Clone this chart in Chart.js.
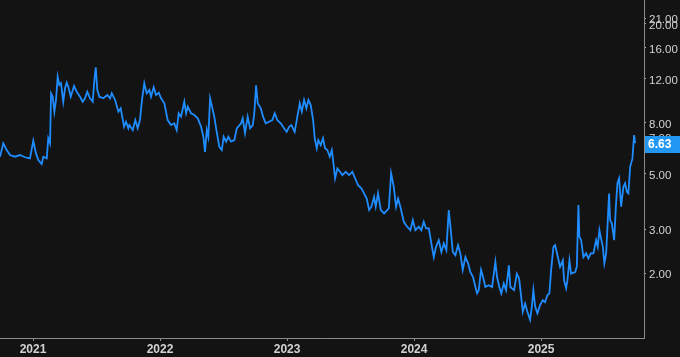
<!DOCTYPE html>
<html>
<head>
<meta charset="utf-8">
<script src="https://cdn.jsdelivr.net/npm/chart.js@4.4.1/dist/chart.umd.min.js"></script>
<style>
    html, body { margin: 0; padding: 0; background: #131313; }
    #wrap { width: 680px; height: 357px; position: relative; }
</style>
</head>
<body>
<div id="wrap"><canvas id="priceChart"></canvas></div>
<script>
// Dates as decimal years, prices (log scale)
const dates = [
    2020.740, 2020.766, 2020.793, 2020.819, 2020.858, 2020.897, 2020.937, 2020.976, 2021.002, 2021.023,
    2021.042, 2021.068, 2021.081, 2021.108, 2021.120, 2021.134, 2021.142, 2021.155, 2021.168, 2021.181,
    2021.194, 2021.207, 2021.220, 2021.238, 2021.252, 2021.265, 2021.278, 2021.297, 2021.323, 2021.344,
    2021.370, 2021.391, 2021.409, 2021.427, 2021.449, 2021.470, 2021.483, 2021.494, 2021.506, 2021.522,
    2021.553, 2021.585, 2021.606, 2021.620, 2021.646, 2021.672, 2021.690, 2021.717, 2021.732, 2021.750,
    2021.758, 2021.785, 2021.805, 2021.824, 2021.842, 2021.858, 2021.876, 2021.895, 2021.916, 2021.929,
    2021.950, 2021.968, 2021.990, 2022.008, 2022.034, 2022.060, 2022.086, 2022.112, 2022.131, 2022.147,
    2022.165, 2022.191, 2022.205, 2022.218, 2022.244, 2022.270, 2022.297, 2022.323, 2022.341, 2022.354,
    2022.368, 2022.380, 2022.394, 2022.409, 2022.427, 2022.446, 2022.467, 2022.486, 2022.501, 2022.520,
    2022.538, 2022.559, 2022.585, 2022.604, 2022.638, 2022.651, 2022.669, 2022.690, 2022.709, 2022.730,
    2022.742, 2022.756, 2022.769,
    2022.793, 2022.811, 2022.832, 2022.858, 2022.884, 2022.903, 2022.923, 2022.950, 2022.976, 2022.997,
    2023.016, 2023.034, 2023.060, 2023.081, 2023.100, 2023.116, 2023.134, 2023.152, 2023.168, 2023.186,
    2023.205, 2023.218, 2023.234, 2023.246, 2023.265, 2023.283, 2023.299, 2023.317, 2023.336, 2023.352,
    2023.364, 2023.378, 2023.396, 2023.417, 2023.435, 2023.462, 2023.488, 2023.514, 2023.541, 2023.559,
    2023.585, 2023.606, 2023.627, 2023.646, 2023.664, 2023.685, 2023.698, 2023.716, 2023.738, 2023.764,
    2023.801, 2023.819, 2023.840, 2023.858, 2023.874, 2023.892, 2023.919, 2023.945, 2023.971, 2023.990,
    2024.010, 2024.037, 2024.057, 2024.076, 2024.094, 2024.116, 2024.136, 2024.155, 2024.173, 2024.194,
    2024.215, 2024.234, 2024.254, 2024.273, 2024.286, 2024.305, 2024.325, 2024.346, 2024.364, 2024.383,
    2024.404, 2024.425, 2024.443, 2024.464, 2024.483, 2024.496, 2024.509, 2024.527, 2024.543, 2024.561,
    2024.588, 2024.614, 2024.640, 2024.653, 2024.671, 2024.687, 2024.706, 2024.724, 2024.746, 2024.758,
    2024.787, 2024.809, 2024.827, 2024.840, 2024.856, 2024.874, 2024.892, 2024.913, 2024.927, 2024.939,
    2024.953, 2024.971, 2024.992, 2025.013, 2025.031, 2025.049, 2025.065, 2025.079, 2025.097, 2025.110,
    2025.123, 2025.149, 2025.171, 2025.181, 2025.197, 2025.207, 2025.223, 2025.236, 2025.268, 2025.281,
    2025.294, 2025.301, 2025.315, 2025.333, 2025.354, 2025.372, 2025.391, 2025.412, 2025.433, 2025.446,
    2025.459, 2025.472, 2025.486, 2025.498, 2025.512, 2025.525, 2025.535, 2025.543, 2025.557, 2025.575,
    2025.590, 2025.601, 2025.614, 2025.630, 2025.648, 2025.661, 2025.675, 2025.687, 2025.701, 2025.719,
    2025.732, 2025.740
];

const prices = [
    5.85, 6.62, 6.22, 5.94, 5.85, 5.94, 5.82, 5.76, 6.78, 6.03,
    5.67, 5.47, 5.85, 5.76, 6.93, 6.62, 10.49, 10.17, 8.86, 9.87,
    12.23, 11.33, 11.51, 9.71, 10.99, 11.57, 11.15, 10.17, 11.23, 10.65,
    10.17, 9.71, 10.02, 10.65, 10.02, 9.71, 11.86, 13.34, 10.82, 10.17,
    10.02, 10.33, 10.02, 10.49, 9.87, 8.86, 9.14, 7.71, 8.07, 7.60,
    7.83, 7.48, 8.20, 7.60, 8.20, 9.87, 11.51, 10.49, 10.82, 10.17,
    11.09, 10.33, 10.55, 10.02, 9.57, 8.20, 7.83, 7.96, 7.48, 8.73,
    8.46, 9.71, 8.73, 9.28, 8.73, 8.59, 8.33, 7.71, 7.03, 6.12,
    7.48, 7.03, 10.02, 9.28, 8.46, 7.36, 6.41, 6.22, 7.03, 6.72,
    7.03, 6.72, 6.82, 7.60, 7.96, 8.33, 7.26, 8.46, 7.60, 7.83,
    8.73, 11.30, 9.57,
    9.14, 8.46, 7.96, 8.07, 8.20, 8.73, 8.20, 7.96, 7.60, 7.36,
    7.71, 7.83, 7.36, 8.46, 9.57, 8.86, 9.87, 9.14, 9.87, 9.42,
    8.20, 6.93, 6.32, 6.82, 6.51, 6.93, 6.32, 6.22, 5.85, 6.22,
    5.58, 4.79, 5.25, 5.09, 4.94, 5.09, 4.94, 5.09, 4.72, 4.50,
    4.37, 4.17, 3.98, 3.58, 3.69, 4.04, 3.69, 4.17, 3.58, 3.47,
    3.63, 5.02, 4.43, 3.69, 3.98, 3.69, 3.21, 3.07, 2.97, 3.26,
    2.97, 3.07, 2.97, 3.21, 3.02, 3.02, 2.63, 2.32, 2.55, 2.71,
    2.43, 2.63, 2.47, 3.58, 3.07, 2.43, 2.36, 2.59, 2.40, 2.06,
    2.32, 2.19, 2.02, 1.93, 1.76, 1.66, 1.71, 2.06, 1.93, 1.76,
    1.79, 1.76, 2.22, 1.93, 1.76, 1.66, 1.82, 1.71, 2.15, 1.76,
    1.71, 1.99, 1.90, 1.66, 1.40, 1.51, 1.40, 1.30, 1.47, 1.71,
    1.47, 1.38, 1.49, 1.56, 1.53, 1.63, 1.66, 2.06, 2.55, 2.59,
    2.43, 2.12, 2.25, 1.87, 1.74, 1.87, 2.25, 1.99, 2.02, 2.12,
    3.75, 2.80, 2.71, 2.32, 2.40, 2.29, 2.40, 2.40, 2.71, 2.55,
    2.97, 2.75, 2.55, 2.19, 2.40, 3.26, 4.17, 3.26, 3.16, 2.71,
    3.80, 4.58, 4.79, 3.69, 4.43, 4.58, 4.23, 4.17, 5.33, 5.76,
    7.14, 6.63
];

// Axis ticks
const yearTicks = [2021, 2022, 2023, 2024, 2025];
const priceTicks = [2, 3, 5, 7, 8, 12, 16, 20, 21];

const xMin = 2020.74;
const xMax = 2025.81;
const yMin = 1.1;
const yMax = 24.8;

const bgColor = '#131313';
const lineColor = '#1f8cff';
const labelColor = '#d2d2d2';
const axisColor = '#8a8a8a';
const fontFamily = '"Liberation Sans", Arial, sans-serif';

// Fill the canvas background
const backgroundPlugin = {
    id: 'background',
    beforeDraw(chart) {
        const ctx = chart.ctx;
        ctx.save();
        ctx.fillStyle = bgColor;
        ctx.fillRect(0, 0, chart.width, chart.height);
        ctx.restore();
    }
};

// Blue box with the last price on the right axis
const lastValuePlugin = {
    id: 'lastValue',
    afterDraw(chart) {
        const ctx = chart.ctx;
        const yScale = chart.scales.y;
        const last = prices[prices.length - 1];
        const y = Math.round(yScale.getPixelForValue(last)) + 1;
        const left = yScale.left + 1;
        ctx.save();
        ctx.fillStyle = '#2196f3';
        ctx.fillRect(left, y - 8, chart.width - left, 17);
        ctx.fillStyle = '#ffffff';
        ctx.font = 'bold 12px ' + fontFamily;
        ctx.textBaseline = 'middle';
        ctx.fillText(last.toFixed(2), left + 3, y + 1);
        ctx.restore();
    }
};

// Drop the label padding Chart.js reserves so the plot fills the canvas
function noPadding(scale) {
    scale.paddingTop = 0;
    scale.paddingBottom = 0;
    scale.paddingLeft = 0;
    scale.paddingRight = 0;
}

const ctx = document.getElementById('priceChart').getContext('2d');
new Chart(ctx, {
    type: 'line',
    data: {
        labels: dates,
        datasets: [{
            data: dates.map((d, i) => ({ x: d, y: prices[i] })),
            borderColor: lineColor,
            borderWidth: 1.8,
            pointRadius: 0,
            tension: 0,
            fill: false
        }]
    },
    options: {
        responsive: true,
        maintainAspectRatio: false,
        animation: false,
        layout: { padding: 0 },
        plugins: {
            legend: { display: false },
            tooltip: { enabled: false }
        },
        scales: {
            x: {
                type: 'linear',
                position: 'bottom',
                min: xMin,
                max: xMax,
                grid: { drawOnChartArea: false, tickLength: 3, color: axisColor },
                border: { display: true, color: axisColor },
                ticks: {
                    color: labelColor,
                    font: { family: fontFamily, size: 12, weight: 'bold' },
                    padding: 1,
                    maxRotation: 0,
                    autoSkip: false,
                    callback: (v) => String(v)
                },
                afterBuildTicks: (scale) => { scale.ticks = yearTicks.map(v => ({ value: v })); },
                afterFit: (scale) => { scale.height = 19; noPadding(scale); }
            },
            y: {
                type: 'logarithmic',
                position: 'right',
                min: yMin,
                max: yMax,
                grid: { drawOnChartArea: false, tickLength: 2, color: '#b0b0b0' },
                border: { display: true, color: axisColor },
                ticks: {
                    color: labelColor,
                    font: { family: fontFamily, size: 11.5 },
                    padding: 3,
                    labelOffset: 2,
                    autoSkip: false,
                    callback: (v) => Number(v).toFixed(2)
                },
                afterBuildTicks: (scale) => { scale.ticks = priceTicks.map(v => ({ value: v })); },
                afterFit: (scale) => { scale.width = 36; noPadding(scale); }
            }
        }
    },
    plugins: [backgroundPlugin, lastValuePlugin]
});
</script>
</body>
</html>
